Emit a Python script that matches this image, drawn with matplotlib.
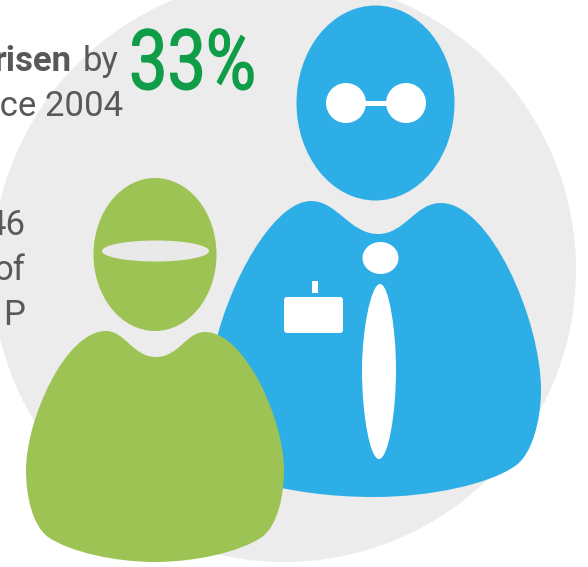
import matplotlib
matplotlib.use("Agg")
import matplotlib.pyplot as plt
from matplotlib.patches import Circle, Ellipse, PathPatch, FancyBboxPatch, Rectangle
from matplotlib.path import Path
from matplotlib.patheffects import AbstractPathEffect
from matplotlib.transforms import Affine2D

# Text content
headline_bold = "risen"
headline_regular = "by"
headline_second = "since 2004"
headline_value = "33%"
side_lines = ["46", "of", "P"]

GREY = "#ececec"
BLUE = "#2daee6"
GREEN = "#9ec355"
TEXT = "#58595b"
VALUE = "#0f9d47"

fig = plt.figure(figsize=(5.88, 5.67), dpi=100, facecolor="white")
ax = fig.add_axes([0, 0, 1, 1])
ax.set_xlim(0, 588)
ax.set_ylim(567, 0)
ax.axis("off")


class CondensedText(AbstractPathEffect):
    """Draw real text narrower about a fixed x, with a slight stroke."""

    def __init__(self, anchor_x, factor, stroke):
        super().__init__()
        self.anchor_x = anchor_x
        self.factor = factor
        self.stroke = stroke

    def draw_path(self, renderer, gc, tpath, affine, rgbFace=None):
        squeeze = Affine2D().translate(-self.anchor_x, 0).scale(self.factor, 1).translate(self.anchor_x, 0)
        gc0 = renderer.new_gc()
        gc0.copy_properties(gc)
        gc0.set_linewidth(self.stroke)
        gc0.set_foreground(rgbFace)
        gc0.set_joinstyle("round")
        gc0.set_capstyle("round")
        renderer.draw_path(gc0, tpath, affine + squeeze, rgbFace)
        gc0.restore()


def blob(start, segments, color, z):
    verts = [start]
    codes = [Path.MOVETO]
    for seg in segments:
        verts.extend(seg)
        codes.extend([Path.CURVE4] * 3)
    ax.add_patch(PathPatch(Path(verts, codes), fc=color, ec="none", zorder=z))


ax.add_patch(Circle((284, 270), 292, fc=GREY, ec="none", zorder=1))

# Blue figure
ax.add_patch(Ellipse((375.5, 103), 158, 195, fc=BLUE, ec="none", zorder=2))
ax.add_patch(Circle((346, 103), 20, fc="white", ec="none", zorder=3))
ax.add_patch(Circle((406, 103), 20, fc="white", ec="none", zorder=3))
ax.add_patch(Rectangle((365, 101), 22, 4.5, fc="white", ec="none", zorder=3))
blob((311, 201), [
    [(337, 201), (350, 234), (378, 234)],
    [(405, 234), (415, 203), (441, 203)],
    [(490, 203), (541, 320), (541, 390)],
    [(541, 420), (532, 455), (515, 466)],
    [(490, 484), (430, 497), (375, 497)],
    [(330, 497), (290, 492), (240, 478)],
    [(220, 440), (208, 370), (219, 330)],
    [(238, 265), (278, 201), (311, 201)],
], BLUE, 2)
ax.add_patch(Ellipse((380.5, 258), 36, 32, fc="white", ec="none", zorder=3))
blob((380, 284), [
    [(389, 284), (396, 330), (396, 370)],
    [(396, 415), (388, 459), (379, 459)],
    [(370, 459), (362, 415), (362, 370)],
    [(362, 330), (371, 284), (380, 284)],
], "white", 3)
ax.add_patch(FancyBboxPatch((287, 300), 53, 30, boxstyle="round,pad=3,rounding_size=3",
                            fc="white", ec="none", zorder=3))
ax.add_patch(Rectangle((312, 281), 5.5, 12, fc="white", ec="none", zorder=3))

# Green figure
ax.add_patch(Ellipse((155, 254.5), 123, 153, fc=GREEN, ec="none", zorder=4))
ax.add_patch(Ellipse((155.5, 251), 107, 21, fc="#e9e9e9", ec="none", zorder=5))
blob((106, 331), [
    [(125, 331), (133, 357), (156, 357)],
    [(179, 357), (186, 332), (205, 332)],
    [(245, 332), (284, 420), (284, 470)],
    [(284, 495), (278, 525), (262, 537)],
    [(240, 552), (195, 562), (155, 562)],
    [(115, 562), (70, 552), (48, 537)],
    [(32, 525), (26, 495), (26, 470)],
    [(26, 420), (65, 331), (106, 331)],
], GREEN, 4)

# Text
ax.text(119, 71, headline_regular, ha="right", va="baseline", color=TEXT,
        fontsize=25, family="Roboto", zorder=6)
ax.text(71, 71, headline_bold, ha="right", va="baseline", color=TEXT,
        fontsize=25, family="Roboto", fontweight="bold", zorder=6)
ax.text(123, 116, headline_second, ha="right", va="baseline", color=TEXT,
        fontsize=25, family="Roboto", zorder=6)
for label, y in zip(side_lines, [235, 280, 325]):
    ax.text(25.5, y, label, ha="right", va="baseline", color=TEXT,
            fontsize=25, family="Roboto", zorder=6)
value_text = ax.text(256, 89, headline_value, ha="right", va="baseline", color=VALUE,
                     fontsize=60, family="Roboto", zorder=6)
value_text.set_path_effects([CondensedText(256, 0.82, 1.0)])

fig.savefig("out.png", dpi=100, facecolor="white")
